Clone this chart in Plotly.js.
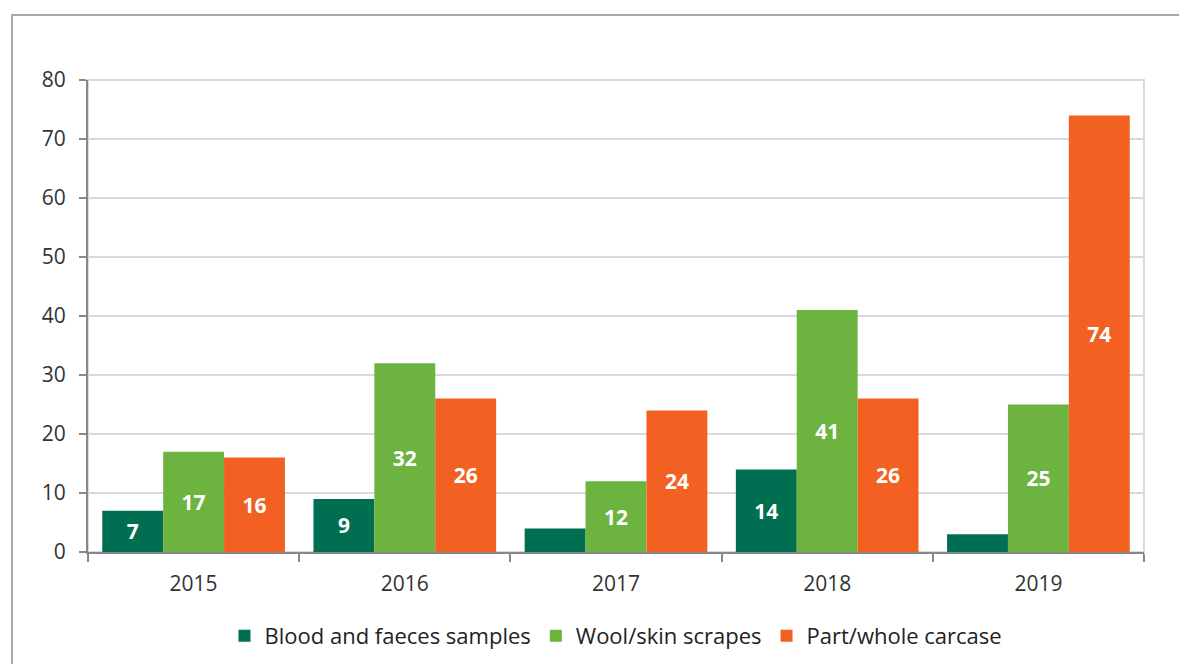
<!DOCTYPE html>
<html><head><meta charset="utf-8">
<script src="https://cdn.plot.ly/plotly-3.0.1.min.js"></script>
<style>
body{margin:0;padding:0;background:#fff;}
#wrap{position:relative;width:1179px;height:664px;overflow:hidden;}
#chart{width:1179px;height:664px;}
#frame{position:absolute;left:11px;top:14px;width:1300px;height:800px;border:2px solid #a9a9a9;pointer-events:none;}
</style></head>
<body><div id="wrap"><div id="chart"></div><div id="frame"></div></div>
<script>
var years = ['2015','2016','2017','2018','2019'];
var blood = [7, 9, 4, 14, 3];
var wool = [17, 32, 12, 41, 25];
var carcase = [16, 26, 24, 26, 74];
var seriesNames = ['Blood and faeces samples','Wool/skin scrapes','Part/whole carcase'];
var colors = ['#006f51','#6db33f','#f26122'];
var labelMin = 5;
function lbl(arr){return arr.map(function(v){return v>=labelMin? String(v):'';});}
var all=[blood,wool,carcase];
var traces = all.map(function(vals,i){
  return {type:'bar', x:years, y:vals, name:seriesNames[i],
    marker:{color:colors[i]}, text:lbl(vals), textposition:'inside',
    insidetextanchor:'middle', textangle:0,
    textfont:{family:'Open Sans, sans-serif', size:21, color:'#ffffff', weight:'bold'},
    hoverinfo:'skip'};
});
var layout = {
  width:1179, height:664,
  margin:{l:88, r:35, t:80, b:112, autoexpand:false},
  paper_bgcolor:'#ffffff', plot_bgcolor:'#ffffff',
  barmode:'group', bargap:0.135, bargroupgap:0,
  font:{family:'Open Sans, sans-serif', color:'#333333', size:22},
  showlegend:true,
  legend:{orientation:'h', x:0.5, xanchor:'center', y:-0.178, yanchor:'middle',
    font:{size:22, color:'#222'}, itemwidth:30, traceorder:'normal'},
  xaxis:{type:'category', showline:true, linecolor:'#888888', linewidth:2,
    ticks:'outside', tickson:'boundaries', ticklen:8, tickcolor:'#888888', tickwidth:2,
    showgrid:false, tickfont:{size:21, color:'#333'}, ticklabelstandoff:12},
  yaxis:{range:[0,80], dtick:10, showline:true, linecolor:'#888888', linewidth:2,
    ticks:'outside', ticklen:7, tickcolor:'#888888', tickwidth:2,
    gridcolor:'#d9d9d9', gridwidth:1.5, zeroline:false,
    tickfont:{size:21, color:'#333'}, ticklabelstandoff:9},
  shapes:[{type:'rect', xref:'paper', yref:'paper', x0:0, x1:1, y0:0, y1:1,
    line:{color:'#d9d9d9', width:2}, layer:'below'}]
};
Plotly.newPlot('chart', traces, layout, {displayModeBar:false, staticPlot:true});
</script></body></html>
